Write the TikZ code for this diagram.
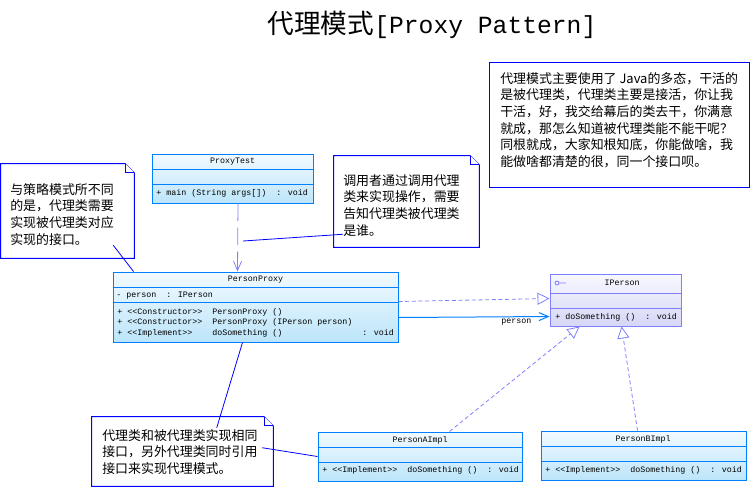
\documentclass[tikz,border=0pt]{standalone}
\usepackage{fontspec}
\setmainfont{Liberation Serif}
\newfontfamily\cjkfont{Noto Sans CJK SC}
\newfontfamily\umlmono{Liberation Mono}
\usetikzlibrary{arrows.meta,calc,fit}
\definecolor{clsline}{RGB}{0,128,255}
\definecolor{clstop}{RGB}{242,250,255}
\definecolor{clsbot}{RGB}{188,229,250}
\definecolor{ifcline}{RGB}{128,128,255}
\definecolor{ifctop}{RGB}{248,248,255}
\definecolor{ifcbot}{RGB}{214,214,246}
\definecolor{noteline}{RGB}{0,0,255}
\tikzset{
  x=0.75pt, y=-0.75pt,
  cls/.style={draw=clsline,line width=0.75pt,top color=clstop,
    bottom color=clsbot,inner sep=0pt},
  ifc/.style={draw=ifcline,line width=0.75pt,top color=ifctop,
    bottom color=ifcbot,inner sep=0pt},
  clsname/.style={font=\umlmono\fontsize{6.25pt}{7.5pt}\selectfont,inner sep=0pt},
  member/.style={font=\umlmono\fontsize{6.25pt}{7.5pt}\selectfont,inner sep=0pt,
    anchor=west},
  notearea/.style={inner sep=0pt},
  notebox/.style={draw=noteline,line width=0.75pt,fill=white},
  notetxt/.style={font=\cjkfont\fontsize{9.7pt}{12.5pt}\selectfont,align=left,
    inner sep=0pt,anchor=north west},
  notelink/.style={draw=noteline,line width=0.6pt},
  dep/.style={draw=ifcline,line width=0.6pt,dash pattern=on 13pt off 5pt,
    -{Straight Barb[length=7pt,width=6pt]}},
  real/.style={draw=ifcline,line width=0.6pt,dash pattern=on 3pt off 2pt,
    -{Triangle[open,length=9pt,width=9pt,fill=white]}},
  assoc/.style={draw=clsline,line width=0.75pt,
    -{Straight Barb[length=7pt,width=6pt]}},
}

\begin{document}
\begin{tikzpicture}
  \useasboundingbox (0,0) rectangle (752,487);

  % title
  \node[inner sep=0pt] (title) at (432,25)
    {{\cjkfont\fontsize{20pt}{24pt}\selectfont 代理模式}%
     {\umlmono\fontsize{18.5pt}{24pt}\selectfont [Proxy Pattern]}};

  % notes
  \node[notearea,fit={(1,164) (134,258)}] (noteL) {};
  \node[notearea,fit={(334,156) (479,247)}] (noteM) {};
  \node[notearea,fit={(92,417) (273,486)}] (noteB) {};
  \node[notearea,notebox,fit={(489,62) (749,187)}] (noteR) {};
  \foreach \n in {noteL,noteM,noteB}{
    \draw[notebox] (\n.north west) -- ($(\n.north east)+(-9,0)$)
      -- ($(\n.north east)+(0,9)$) -- (\n.south east) -- (\n.south west) -- cycle;
    \draw[notebox] ($(\n.north east)+(-9,0)$) |- ($(\n.north east)+(0,9)$);
  }
  \node[notetxt] (noteL-txt) at (10,183)
    {与策略模式所不同\\的是，代理类需要\\实现被代理类对应\\实现的接口。};
  \node[notetxt] (noteM-txt) at (343,174)
    {调用者通过调用代理\\类来实现操作，需要\\告知代理类被代理类\\是谁。};
  \node[notetxt] (noteB-txt) at (102,429)
    {代理类和被代理类实现相同\\接口，另外代理类同时引用\\接口来实现代理模式。};
  \node[notetxt] (noteR-txt) at (500,72)
    {代理模式主要使用了 Java的多态，干活的\\是被代理类，代理类主要是接活，你让我\\干活，好，我交给幕后的类去干，你满意\\就成，那怎么知道被代理类能不能干呢？\\同根就成，大家知根知底，你能做啥，我\\能做啥都清楚的很，同一个接口呗。};

  % classes
  \node[cls,fit={(152,154) (313,203)}] (test) {};
  \node[cls,fit={(113,272) (398,342)}] (proxy) {};
  \node[ifc,fit={(550,274) (681,326)}] (iface) {};
  \node[cls,fit={(318,432) (522,481)}] (implA) {};
  \node[cls,fit={(541,431) (746,480)}] (implB) {};
  \foreach \c/\a/\b/\col in {test/16/31/clsline,proxy/16/31/clsline,
      iface/20/35/ifcline,implA/16/31/clsline,implB/16/31/clsline}{
    \draw[\col,line width=0.75pt] ($(\c.north west)+(0,\a)$) -- ($(\c.north east)+(0,\a)$);
    \draw[\col,line width=0.75pt] ($(\c.north west)+(0,\b)$) -- ($(\c.north east)+(0,\b)$);
  }

  \node[clsname] (test-name) at (232.5,162) {ProxyTest};
  \node[member] (test-op) at (156,193) {+ main (String args[])~~: void};

  \node[clsname] (proxy-name) at (255.5,280) {PersonProxy};
  \node[member] (proxy-attr) at (116,296) {- person~~: IPerson};
  \node[member] (proxy-op1) at (117,312)
    {+ <<Constructor>>~~PersonProxy ()};
  \node[member] (proxy-op2) at (117,322)
    {+ <<Constructor>>~~PersonProxy (IPerson person)};
  \node[member] (proxy-op3) at (117,333)
    {+ <<Implement>>~~~~doSomething ()~~~~~~~~~~~~~~~~: void};

  \draw[ifcline,line width=0.6pt] (557,283) circle[radius=1.5pt]
    (559,283) -- (566,283);
  \node[clsname] (iface-name) at (622,283) {IPerson};
  \node[member] (iface-op) at (555,317) {+ doSomething ()~~: void};

  \node[clsname] (implA-name) at (420,440) {PersonAImpl};
  \node[member] (implA-op) at (322,470) {+ <<Implement>>~~doSomething ()~~: void};

  \node[clsname] (implB-name) at (643,439) {PersonBImpl};
  \node[member] (implB-op) at (545,470) {+ <<Implement>>~~doSomething ()~~: void};

  % relations
  \draw[dep] ($(test.south)+(5.5,0)$) -- ($(proxy.north west)+(125,0)$);
  \draw[real] ($(proxy.north east)+(0,30)$) -- ($(iface.north west)+(0,25)$);
  \draw[assoc] ($(proxy.north east)+(0,46)$) -- ($(iface.north west)+(0,43)$)
    node[pos=0.78,below=1.5pt,clsname] (person-lbl) {person};
  \draw[real] ($(implA.north west)+(132,0)$) -- ($(iface.south west)+(30,0)$);
  \draw[real] ($(implB.north west)+(97,0)$) -- ($(iface.south west)+(72,0)$);

  % note links
  \coordinate (dep-pt) at (243,241);
  \draw[notelink] (dep-pt) -- ($(noteM.south west)+(9,-13)$);
  \draw[notelink] ($(noteL.south east)+(-21,-13)$) -- ($(proxy.north west)+(21,0)$);
  \draw[notelink] ($(noteB.north west)+(125,11)$) -- ($(proxy.south west)+(130,0)$);
  \draw[notelink] ($(noteB.north east)+(-11,31)$) -- (implA.west);
\end{tikzpicture}
\end{document}
